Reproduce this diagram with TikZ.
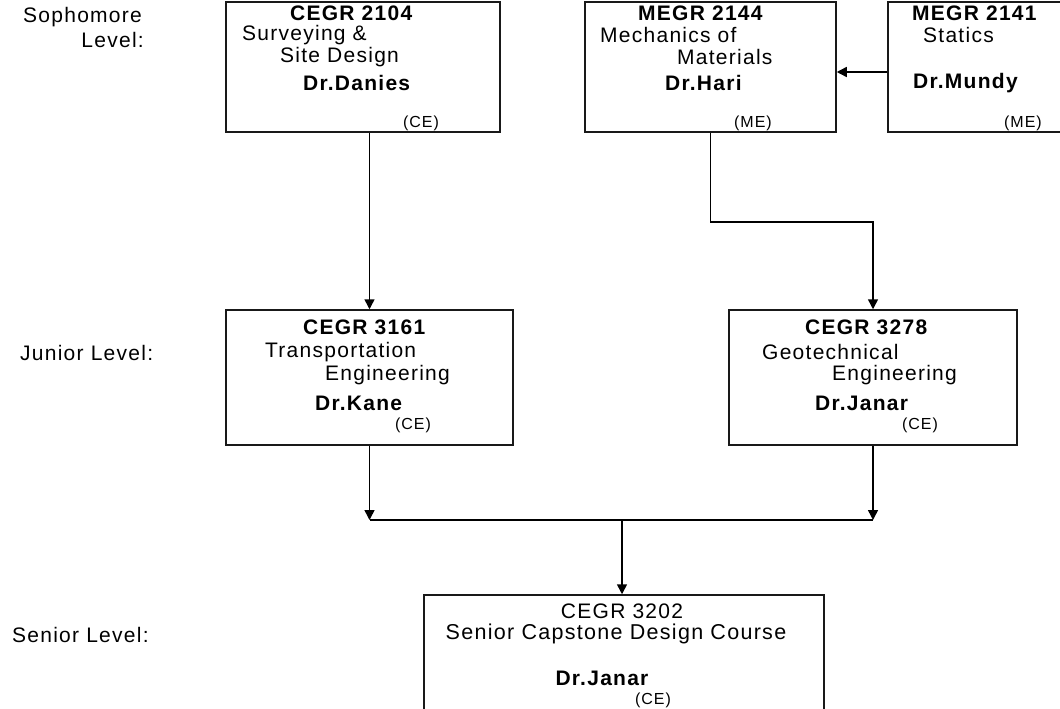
\documentclass[tikz,border=0pt]{standalone}
\usepackage{fontspec}
\setmainfont{Liberation Sans}[LetterSpace=6]
\usetikzlibrary{arrows.meta,calc,positioning}
\tikzset{course/.style={draw=black!90, line width=1.5pt, rectangle, inner sep=0pt},
  txt/.style={anchor=west, inner sep=0pt, font=\fontsize{21}{25}\selectfont},
  code/.style={txt, font=\fontsize{21}{25}\selectfont\bfseries},
  dept/.style={anchor=west, inner sep=0pt, font=\fontsize{16}{19}\selectfont},
  wire/.style={draw=black, line width=1.5pt},
  link/.style={wire, -{Triangle[length=10pt,width=10pt]}}}

\begin{document}
\begin{tikzpicture}[x=1pt, y=-1pt]
    \useasboundingbox (0,0) rectangle (1060,709);
    \clip (0,0) rectangle (1060,709);
    \node[txt] (soph) at (23,17) {Sophomore};
    \node[txt, anchor=east] (sophlvl) at (144,40) {Level:};
    \node[txt] (jun) at (20,353) {Junior Level:};
    \node[txt] (sen) at (12,635) {Senior Level:};

    \node[course, minimum width=274pt, minimum height=130pt] (c2104) at (363,67) {};
    \node[code] (c2104a) at (290,13) {CEGR 2104};
    \node[txt] (c2104b) at (242,35) {Surveying \&};
    \node[txt] (c2104c) at (280,57) {Site Design};
    \node[code] (c2104d) at (303,83) {Dr.Danies};
    \node[dept] (c2104e) at (403,123) {(CE)};

    \node[course, minimum width=251pt, minimum height=130pt] (c2144) at (710.5,67) {};
    \node[code] (c2144a) at (638,13) {MEGR 2144};
    \node[txt] (c2144b) at (600,35) {Mechanics of};
    \node[txt] (c2144c) at (677,57) {Materials};
    \node[code] (c2144d) at (665,83) {Dr.Hari};
    \node[dept] (c2144e) at (734,123) {(ME)};

    \node[course, minimum width=187pt, minimum height=130pt] (c2141) at (981.5,67) {};
    \node[code] (c2141a) at (912,13) {MEGR 2141};
    \node[txt] (c2141b) at (923,35) {Statics};
    \node[code] (c2141d) at (913,83) {Dr.Mundy};
    \node[dept] (c2141e) at (1004,123) {(ME)};

    \node[course, minimum width=287pt, minimum height=135pt] (c3161) at (369.5,377.5) {};
    \node[code] (c3161a) at (303,327) {CEGR 3161};
    \node[txt] (c3161b) at (265,352) {Transportation};
    \node[txt] (c3161c) at (325,375) {Engineering};
    \node[code] (c3161d) at (315,403) {Dr.Kane};
    \node[dept] (c3161e) at (395,425) {(CE)};

    \node[course, minimum width=288pt, minimum height=135pt] (c3278) at (873,377.5) {};
    \node[code] (c3278a) at (805,327) {CEGR 3278};
    \node[txt] (c3278b) at (762,352) {Geotechnical};
    \node[txt] (c3278c) at (832,375) {Engineering};
    \node[code] (c3278d) at (815,403) {Dr.Janar};
    \node[dept] (c3278e) at (902,425) {(CE)};

    \node[course, minimum width=400pt, minimum height=130pt] (c3202) at (624,660) {};
    \node[txt, anchor=center] (c3202a) at (622,611) {CEGR 3202};
    \node[txt, anchor=center, font=\fontsize{21.5}{25}\selectfont] (c3202b) at (616,634) {Senior Capstone Design Course};
    \node[code, anchor=center] (c3202d) at (602,678) {Dr.Janar};
    \node[dept] (c3202e) at (635,700) {(CE)};

    \coordinate (join) at (622,520);
    \draw[link] (c2104.south -| c3161.north) -- (c3161.north);
    \draw[link] ([yshift=-5pt]c2141.west) -- ([yshift=-5pt]c2144.east);
    \draw[link] (c2144.south) -- ++(0,89) -| (c3278.north);
    \draw[link] (c3161.south) -- (c3161.south |- join);
    \draw[link] (c3278.south) -- (c3278.south |- join);
    \draw[wire] (c3161.south |- join) -- (c3278.south |- join);
    \draw[link] (join) -- (join |- c3202.north);
\end{tikzpicture}
\end{document}
